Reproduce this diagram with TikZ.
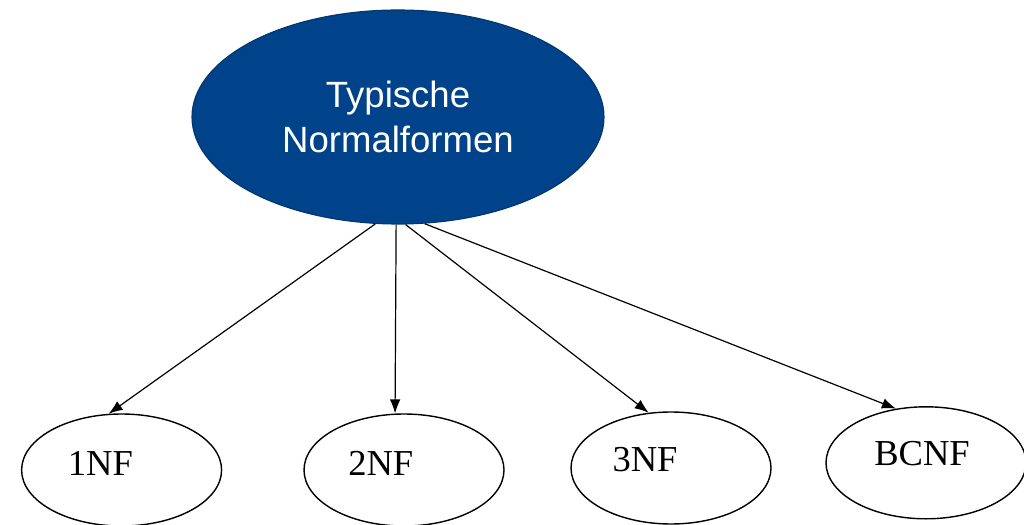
\documentclass[tikz,border=0pt]{standalone}
\usepackage{fontspec}
\setmainfont{Liberation Serif}
\newfontfamily\headfont{Liberation Sans}
\usetikzlibrary{positioning, arrows.meta, shapes.geometric}
\definecolor{NavyBlue}{HTML}{01438A}
\definecolor{Ink}{HTML}{000000}
\tikzset{
    headnode/.style={ellipse, fill=NavyBlue, draw=NavyBlue!80!black, line width=0.8pt, text=white, align=center,
        minimum width=10.3cm, minimum height=5.35cm, font=\headfont\fontsize{26}{32}\selectfont},
    nfnode/.style={ellipse, draw=Ink, line width=1pt, minimum width=5cm, minimum height=2.8cm},
    nftext/.style={font=\fontsize{26}{30}\selectfont, text=Ink},
    arrow/.style={-{Latex[length=10pt,width=7.5pt]}, line width=0.85pt, color=Ink},
}
\begin{document}
\begin{tikzpicture}
    \useasboundingbox (0,0) rectangle (25.6,13.1);

    % Oberbegriff
    \node[headnode] (typ) at (9.95,10.175) {Typische\\Normalformen};

    % die vier Normalformen
    \node[nfnode, label={[nftext, xshift=-0.53cm, yshift=0.17cm]center:1NF}] (nf1) at (3.04,1.35) {};
    \node[nfnode, label={[nftext, xshift=-0.58cm, yshift=0.17cm]center:2NF}] (nf2) at (10.1,1.35) {};
    \node[nfnode, label={[nftext, xshift=-0.65cm, yshift=0.22cm]center:3NF}] (nf3) at (16.775,1.4) {};
    \node[nfnode, label={[nftext, xshift=-0.1cm, yshift=0.22cm]center:BCNF}] (bcnf) at (23.15,1.53) {};

    % Pfeile
    \draw[arrow] (typ.-102) -- (nf1.103);
    \draw[arrow] (typ.-91) -- (nf2.99);
    \draw[arrow] (typ.-86) -- (nf3.112);
    \draw[arrow] (typ.-76) -- (bcnf.119);
\end{tikzpicture}
\end{document}
